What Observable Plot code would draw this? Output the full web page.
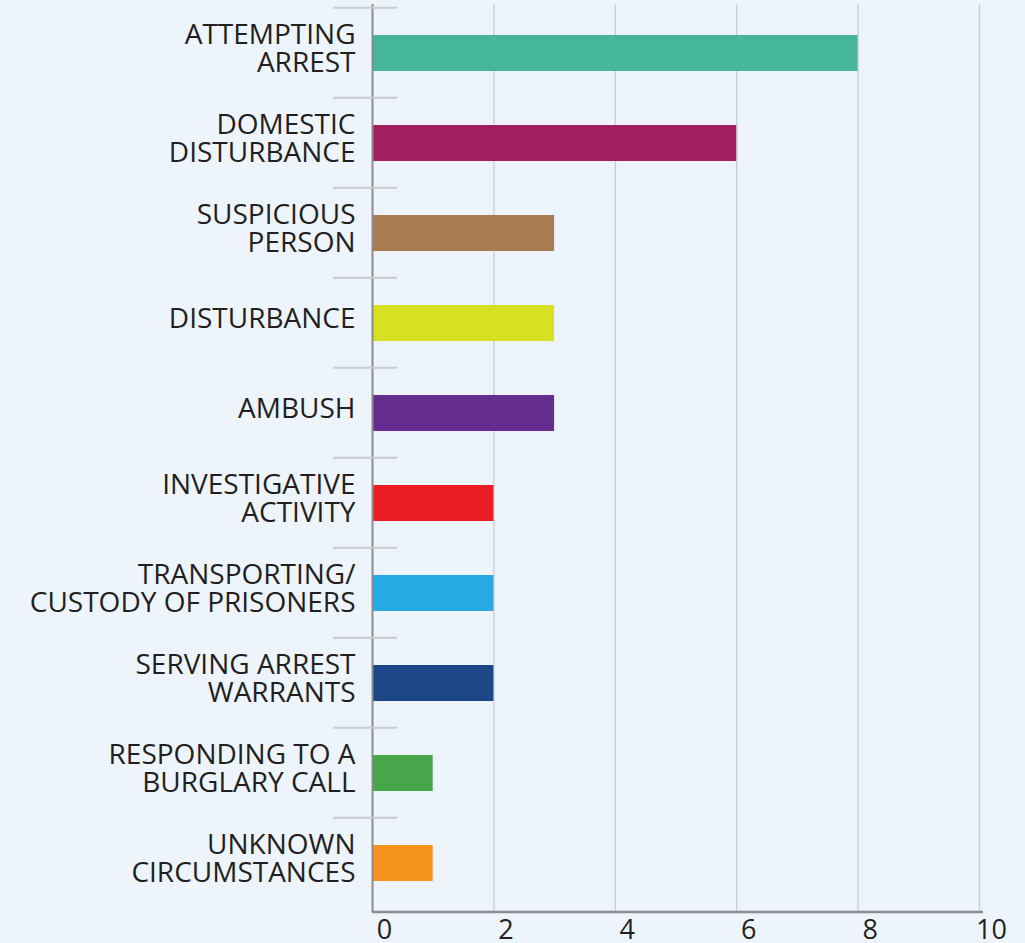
<!DOCTYPE html>
<html><head><meta charset="utf-8">
<script src="https://cdn.jsdelivr.net/npm/d3@7"></script>
<script src="https://cdn.jsdelivr.net/npm/@observablehq/plot@0.6"></script>
<style>html,body{margin:0;padding:0;background:#edf4fb;}</style>
</head><body><div id="chart"></div>
<script>
const categories = [
  "ATTEMPTING\nARREST",
  "DOMESTIC\nDISTURBANCE",
  "SUSPICIOUS\nPERSON",
  "DISTURBANCE",
  "AMBUSH",
  "INVESTIGATIVE\nACTIVITY",
  "TRANSPORTING/\nCUSTODY OF PRISONERS",
  "SERVING ARREST\nWARRANTS",
  "RESPONDING TO A\nBURGLARY CALL",
  "UNKNOWN\nCIRCUMSTANCES"
];
const values = [8, 6, 3, 3, 3, 2, 2, 2, 1, 1];
const colors = ["#45b699", "#a21e5f", "#a87c50", "#d7e021", "#662d91", "#ec1c24", "#27aae1", "#1b4687", "#46a649", "#f7941d"];
const xTicks = [0, 2, 4, 6, 8, 10];

const data = categories.map((c, i) => ({category: c, value: values[i], color: colors[i]}));

function separators(index, scales, vals, dims) {
  const g = d3.create("svg:g");
  const step = (dims.height - dims.marginTop - dims.marginBottom) / categories.length;
  const x0 = scales.x(0);
  categories.forEach(c => {
    const y0 = scales.y(c) - step * 0.3;
    g.append("line")
      .attr("x1", x0 - 39).attr("x2", x0 + 25)
      .attr("y1", y0).attr("y2", y0)
      .attr("stroke", "#c9cccf").attr("stroke-width", 2);
  });
  const yb = dims.height - dims.marginBottom;
  g.append("line")
    .attr("x1", x0).attr("x2", scales.x(10) + 4)
    .attr("y1", yb).attr("y2", yb)
    .attr("stroke", "#8c8c8c").attr("stroke-width", 2.5);
  return g.node();
}

const chart = Plot.plot({
  width: 1025,
  height: 943,
  marginTop: 4,
  marginBottom: 31,
  marginLeft: 372,
  marginRight: 46,
  style: {background: "#edf4fb", fontFamily: "'Open Sans', sans-serif"},
  x: {domain: [0, 10], axis: null},
  y: {domain: categories, axis: null, paddingInner: 0.6, paddingOuter: 0.3},
  color: {type: "identity"},
  marks: [
    Plot.ruleX(xTicks.slice(1), {x: d => d, stroke: "#cdd0d3", strokeWidth: 1.5}),
    Plot.barX(data, {y: "category", x: "value", fill: "color"}),
    Plot.ruleX([0], {stroke: "#8c8c8c", strokeWidth: 2}),
    separators,
    Plot.text(data, {y: "category", x: 0, text: "category", textAnchor: "end", dx: -17, dy: -4, fontSize: 28, fill: "#231f20", lineHeight: 1.0}),
    Plot.text(xTicks, {x: d => d, text: d => String(d), frameAnchor: "bottom", lineAnchor: "top", dx: 12, dy: 7, fontSize: 27, fill: "#231f20"})
  ]
});
document.getElementById("chart").appendChild(chart);
</script>
</body></html>
